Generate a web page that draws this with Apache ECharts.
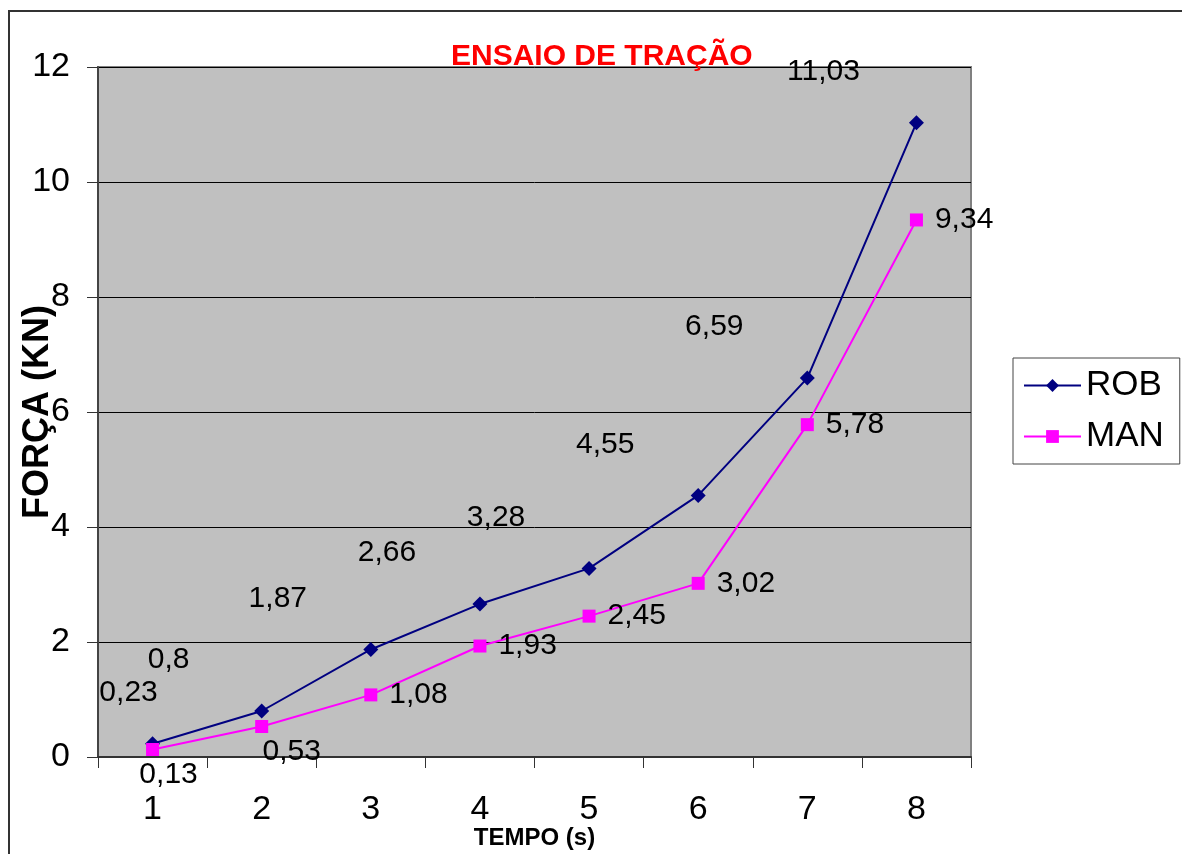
<!DOCTYPE html>
<html>
<head>
<meta charset="utf-8">
<script src="https://cdn.jsdelivr.net/npm/echarts@6/dist/echarts.min.js"></script>
<style>
  html, body { margin: 0; padding: 0; background: #fff; }
  #chart { width: 1182px; height: 854px; }
</style>
</head>
<body>
<div id="chart"></div>
<script>
const categories = ['1', '2', '3', '4', '5', '6', '7', '8'];
const rob = [0.23, 0.8, 1.87, 2.66, 3.28, 4.55, 6.59, 11.03];
const man = [0.13, 0.53, 1.08, 1.93, 2.45, 3.02, 5.78, 9.34];
const yTicks = [0, 2, 4, 6, 8, 10, 12];

const font = "'Liberation Sans', Arial, sans-serif";
const fmt = p => String(p.value).replace('.', ',');

const chart = echarts.init(document.getElementById('chart'));

// a few labels sit apart from the rest in the original
const robData = rob.map((v, i) => i === 0
    ? { value: v, label: { offset: [-24, -51] } }
    : v);
const manData = man.map((v, i) => i < 2
    ? { value: v, label: { position: 'inside', offset: [i === 0 ? 16 : 30, 25] } }
    : v);

const option = {
    animation: false,
    textStyle: { fontFamily: font },
    title: {
        text: 'ENSAIO DE TRAÇÃO',
        left: 446,
        top: 37,
        textStyle: { color: '#ff0000', fontSize: 30, fontWeight: 'bold', fontFamily: font }
    },
    graphic: [{
        type: 'rect',
        shape: { x: 9, y: 11, width: 1400, height: 1000 },
        style: { fill: 'none', stroke: '#333', lineWidth: 2 },
        silent: true
    }],
    legend: {
        orient: 'vertical',
        left: 1013,
        top: 358,
        padding: [10, 16, 10, 10],
        itemGap: 16,
        itemWidth: 57,
        itemHeight: 16,
        borderColor: '#444',
        borderWidth: 1,
        textStyle: { fontSize: 35, color: '#000', fontFamily: font },
        data: ['ROB', 'MAN']
    },
    grid: {
        left: 98, top: 67, right: 211, bottom: 97,
        show: true,
        backgroundColor: '#c0c0c0',
        borderColor: '#808080',
        borderWidth: 2,
        containLabel: false,
        outerBoundsMode: 'none'
    },
    xAxis: {
        type: 'category',
        data: categories,
        boundaryGap: true,
        name: 'TEMPO (s)',
        nameLocation: 'middle',
        nameGap: 69,
        nameMoveOverlap: false,
        nameTextStyle: { fontSize: 24, fontWeight: 'bold', color: '#000', fontFamily: font },
        axisLine: { lineStyle: { color: '#333', width: 2 } },
        axisTick: { show: true, length: 11, lineStyle: { color: '#333', width: 1 } },
        axisLabel: { fontSize: 34, color: '#000', margin: 36, fontFamily: font },
        splitLine: { show: false }
    },
    yAxis: {
        type: 'value',
        min: yTicks[0],
        max: yTicks[yTicks.length - 1],
        interval: 2,
        name: 'FORÇA (KN)',
        nameLocation: 'middle',
        nameGap: 42,
        nameMoveOverlap: false,
        nameTextStyle: { fontSize: 36, fontWeight: 'bold', color: '#000', fontFamily: font },
        axisLine: { show: true, lineStyle: { color: '#444', width: 2 } },
        axisTick: { show: true, length: 11, lineStyle: { color: '#333', width: 1 } },
        axisLabel: { fontSize: 34, color: '#000', margin: 28, fontFamily: font },
        splitLine: { show: true, lineStyle: { color: '#000', width: 1 } }
    },
    series: [
        {
            name: 'ROB',
            type: 'line',
            data: robData,
            color: '#000080',
            symbol: 'diamond',
            symbolSize: 15,
            z: 3,
            lineStyle: { width: 2, color: '#000080' },
            itemStyle: { color: '#000080' },
            label: {
                show: true,
                position: 'inside',
                offset: [-93, -51],
                formatter: fmt,
                fontSize: 30,
                color: '#000',
                fontFamily: font
            }
        },
        {
            name: 'MAN',
            type: 'line',
            data: manData,
            color: '#ff00ff',
            symbol: 'rect',
            symbolSize: 13,
            z: 4,
            lineStyle: { width: 2, color: '#ff00ff' },
            itemStyle: { color: '#ff00ff' },
            label: {
                show: true,
                position: 'right',
                distance: 12,
                formatter: fmt,
                fontSize: 30,
                color: '#000',
                fontFamily: font
            }
        }
    ]
};

chart.setOption(option);
</script>
</body>
</html>
